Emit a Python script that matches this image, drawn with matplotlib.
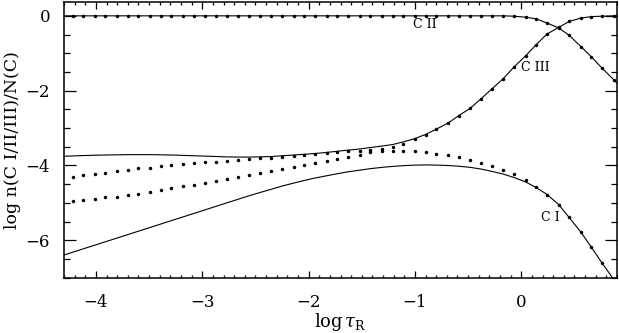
import numpy as np
import matplotlib
matplotlib.use("Agg")
import matplotlib.pyplot as plt
from matplotlib.ticker import MultipleLocator

plt.rcParams["font.family"] = "DejaVu Serif"
plt.rcParams["mathtext.fontset"] = "dejavuserif"

# depth points (log tau_R) of the dotted models
tau_dots = [-4.22, -4.12, -4.01, -3.91, -3.80, -3.70, -3.60, -3.49, -3.39, -3.29,
            -3.18, -3.08, -2.97, -2.87, -2.77, -2.66, -2.56, -2.46, -2.35, -2.25,
            -2.14, -2.04, -1.94, -1.83, -1.73, -1.63, -1.52, -1.42, -1.31, -1.21,
            -1.11, -1.00, -0.90, -0.80, -0.69, -0.59, -0.48, -0.38, -0.28, -0.17,
            -0.07, 0.04, 0.14, 0.24, 0.35, 0.45, 0.56, 0.66, 0.76, 0.87]

c1_dots = [-4.95, -4.92, -4.89, -4.85, -4.83, -4.79, -4.75, -4.70, -4.66, -4.61,
           -4.56, -4.51, -4.46, -4.41, -4.36, -4.30, -4.26, -4.21, -4.15, -4.09,
           -4.04, -3.98, -3.93, -3.87, -3.82, -3.77, -3.71, -3.65, -3.61, -3.60,
           -3.60, -3.61, -3.64, -3.68, -3.72, -3.78, -3.85, -3.93, -4.01, -4.11,
           -4.24, -4.39, -4.57, -4.78, -5.05, -5.39, -5.78, -6.19, -6.61, -7.05]

c2_dots = [0.0] * 39 + [0.0, -0.01, -0.035, -0.08, -0.19, -0.32, -0.52, -0.82,
                        -1.10, -1.40, -1.71]

c3_dots = [-4.30, -4.26, -4.22, -4.19, -4.15, -4.12, -4.08, -4.06, -4.02, -3.99,
           -3.97, -3.94, -3.92, -3.90, -3.87, -3.84, -3.82, -3.81, -3.79, -3.76,
           -3.74, -3.72, -3.70, -3.67, -3.65, -3.62, -3.60, -3.58, -3.55, -3.51,
           -3.42, -3.29, -3.18, -3.03, -2.87, -2.67, -2.47, -2.22, -1.96, -1.68,
           -1.37, -1.07, -0.77, -0.49, -0.31, -0.15, -0.06, -0.02, -0.01, 0.0]

# solid-line models
tau_line = [-4.33] + tau_dots + [0.97]

c1_line = [-6.42, -6.32, -6.229, -6.129, -6.038, -5.938, -5.847, -5.756, -5.656,
           -5.565, -5.474, -5.374, -5.283, -5.183, -5.091, -5.0, -4.90, -4.81,
           -4.725, -4.635, -4.55, -4.47, -4.40, -4.335, -4.275, -4.22, -4.17,
           -4.125, -4.085, -4.05, -4.025, -4.005, -3.99, -3.985, -3.99, -4.0,
           -4.02, -4.05, -4.095, -4.155, -4.23, -4.32, -4.44, -4.59, -4.77,
           -5.04, -5.39, -5.78, -6.19, -6.61, -7.05, -7.45]

c2_line = [0.0] * 40 + [0.0, -0.01, -0.035, -0.08, -0.19, -0.32, -0.52, -0.82,
                        -1.10, -1.40, -1.71, -2.02]

c3_line = [-3.755, -3.745, -3.735, -3.725, -3.72, -3.715, -3.71, -3.71, -3.71,
           -3.715, -3.72, -3.73, -3.74, -3.75, -3.76, -3.77, -3.775, -3.775,
           -3.77, -3.76, -3.74, -3.72, -3.70, -3.68, -3.65, -3.62, -3.59, -3.56,
           -3.52, -3.48, -3.44, -3.37, -3.28, -3.17, -3.03, -2.87, -2.67, -2.47,
           -2.22, -1.96, -1.68, -1.37, -1.07, -0.77, -0.49, -0.31, -0.15, -0.06,
           -0.02, -0.01, 0.0, 0.0]

fig = plt.figure(figsize=(6.19, 3.33), dpi=100)
ax = fig.add_axes([0.1034, 0.166, 0.8934, 0.828])

for y in (c1_line, c2_line, c3_line):
    ax.plot(tau_line, y, color="black", lw=0.8)
for y in (c1_dots, c2_dots, c3_dots):
    ax.plot(tau_dots, y, "o", color="black", ms=2.5, mew=0)

ax.text(0.27, -5.38, "C I", fontsize=9, ha="center", va="center")
ax.text(-0.91, -0.22, "C II", fontsize=9, ha="center", va="center")
ax.text(0.13, -1.39, "C III", fontsize=9, ha="center", va="center")

ax.set_xlim(-4.3, 0.9)
ax.set_ylim(-7, 0.37)
ax.xaxis.set_major_locator(MultipleLocator(1))
ax.xaxis.set_minor_locator(MultipleLocator(0.1))
ax.yaxis.set_major_locator(MultipleLocator(2))
ax.yaxis.set_minor_locator(MultipleLocator(0.5))
ax.tick_params(which="both", direction="in", top=True, right=True,
               labelsize=12, width=0.9)
ax.tick_params(axis="x", which="major", length=4.7, pad=12)
ax.tick_params(axis="x", which="minor", length=2.2)
ax.tick_params(axis="y", which="major", length=8.6, pad=10)
ax.tick_params(axis="y", which="minor", length=4.3)
for s in ax.spines.values():
    s.set_linewidth(1.1)

ax.set_xlabel(r"log$\,\tau_{\rm R}$", fontsize=13, labelpad=0)
ax.set_ylabel("log n(C I/II/III)/N(C)", fontsize=12.5, labelpad=3)

fig.savefig("out.png", dpi=100)
